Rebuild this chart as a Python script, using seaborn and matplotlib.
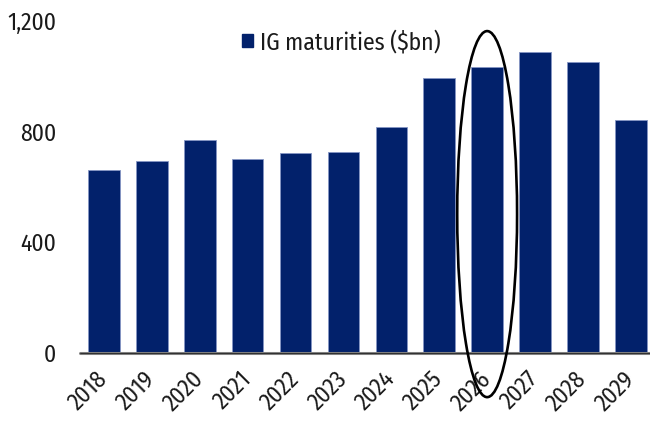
import matplotlib
matplotlib.use("Agg")
import matplotlib.pyplot as plt
import seaborn as sns
import pandas as pd
from matplotlib.patches import Ellipse, Patch
from matplotlib import font_manager

years = ["2018", "2019", "2020", "2021", "2022", "2023", "2024", "2025", "2026", "2027", "2028", "2029"]
maturities = [663, 695, 770, 702, 724, 728, 818, 995, 1035, 1087, 1052, 841]
yticks = [0, 400, 800, 1200]
ytick_labels = ["0", "400", "800", "1,200"]
legend_label = "IG maturities ($bn)"
highlight_year = "2026"

navy = "#02216B"
text_color = "#1a1a1a"
fs = 17

sns.set_theme(style="white")
installed = {f.name for f in font_manager.fontManager.ttflist}
candidates = ["Fira Sans Condensed", "IBM Plex Sans Condensed", "Roboto Condensed",
              "Open Sans Condensed", "PT Sans Narrow", "Liberation Sans Narrow",
              "Archivo Narrow", "Open Sans"]
family = next((c for c in candidates if c in installed), "DejaVu Sans")
plt.rcParams["font.family"] = [family, "DejaVu Sans"]
plt.rcParams["font.weight"] = "normal"

df = pd.DataFrame({"year": years, "value": maturities})

fig = plt.figure(figsize=(6.5, 4.23), dpi=100)
ax = fig.add_axes([80 / 650, (423 - 353) / 423, (650 - 80) / 650, (353 - 21) / 423])

sns.barplot(data=df, x="year", y="value", color=navy, width=0.66,
            edgecolor="#8596c4", linewidth=0.6, saturation=1, ax=ax)

ax.set_ylim(0, 1200)
ax.set_xlim(-0.5, 11.4)
ax.set_yticks(yticks)
ax.set_yticklabels(ytick_labels, fontsize=fs, color=text_color)
ax.set_xlabel("")
ax.set_ylabel("")
for s in ["left", "right", "top", "bottom"]:
    ax.spines[s].set_visible(False)
ax.axhline(0, color="#808080", lw=2.2, zorder=5, clip_on=False)
ax.axhline(0, color="#222222", lw=0.6, zorder=6, clip_on=False)

ax.tick_params(axis="y", length=0, pad=17)
ax.tick_params(axis="x", length=0, pad=16)
for lab in ax.get_xticklabels():
    lab.set_rotation(45)
    lab.set_ha("right")
    lab.set_va("center")
    lab.set_rotation_mode("anchor")
    lab.set_fontsize(fs)
    lab.set_color(text_color)

xi = years.index(highlight_year)
ell = Ellipse((xi, 502), width=1.25, height=1323, fill=False, edgecolor="black",
              lw=1.9, clip_on=False, zorder=10)
ax.add_patch(ell)

handle = Patch(facecolor=navy, edgecolor=navy)
leg = fig.legend([handle], [legend_label], loc="center left",
                 bbox_to_anchor=(242 / 650, 1 - 42 / 423),
                 frameon=False, fontsize=fs, handlelength=0.45, handleheight=0.45,
                 handletextpad=0.3, borderpad=0.0, borderaxespad=0.0)
for t in leg.get_texts():
    t.set_color(text_color)

fig.savefig("out.png", dpi=100)
